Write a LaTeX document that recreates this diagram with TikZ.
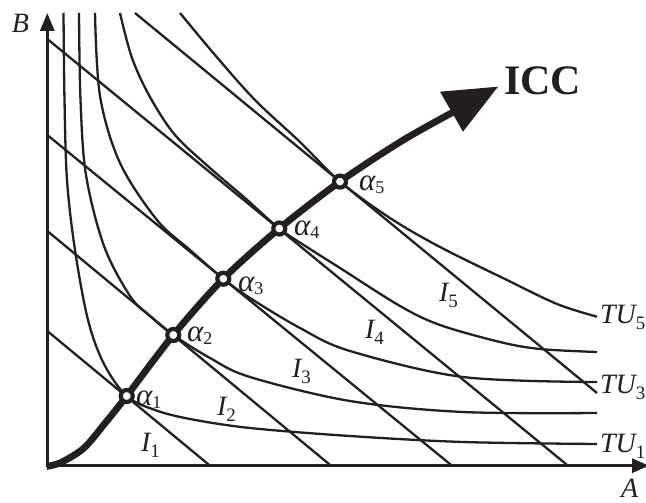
\documentclass[tikz,border=0pt]{standalone}
\usepackage{fontspec}
\setmainfont{Liberation Serif}
\usetikzlibrary{arrows.meta}
\definecolor{ink}{RGB}{35,31,32}
\newcommand\lbsub[2][6pt]{\raisebox{-#1}{\fontsize{19}{19}\selectfont\upshape #2}}
\newcommand\asub[1]{\raisebox{-3pt}{\fontsize{18}{18}\selectfont\upshape #1}}
\begin{document}
\begin{tikzpicture}[x=1pt,y=-1pt,
  every node/.style={text=ink, inner sep=0pt, outer sep=0pt},
  lab/.style={font=\fontsize{28}{30}\selectfont\itshape, anchor=base west},
  alab/.style={font=\fontsize{31}{33}\selectfont\itshape, anchor=base west},
  budget/.style={draw=ink, line width=2.3pt},
  utility/.style={draw=ink, line width=2.3pt},
  axisline/.style={draw=ink, line width=3pt, line join=miter},
  iccline/.style={draw=ink, line width=6.8pt},
  amark/.style={circle, draw=ink, fill=white, line width=4.2pt, minimum size=12pt}
]
\useasboundingbox (0,0) rectangle (646,503);
% coordinates
\coordinate (O) at (47.3,465.7);
\coordinate (Ytip) at (47.3,13);
\coordinate (Xtip) at (649,465.7);
\coordinate (p1) at (126.7,396);
\coordinate (p2) at (173.3,335);
\coordinate (p3) at (223.3,278.7);
\coordinate (p4) at (279.3,228.5);
\coordinate (p5) at (340,181.6);
% budget lines
\coordinate (l1a) at (47.3,331);  \coordinate (l1b) at (210,465.7);
\coordinate (l2a) at (47.3,231);  \coordinate (l2b) at (331,465.7);
\coordinate (l3a) at (47.3,135);  \coordinate (l3b) at (452,465.7);
\coordinate (l4a) at (47.3,39);   \coordinate (l4b) at (568,465.7);
\coordinate (l5a) at (135,13);    \coordinate (l5b) at (597,393);
\draw[budget] (l1a) -- (l1b);
\draw[budget] (l2a) -- (l2b);
\draw[budget] (l3a) -- (l3b);
\draw[budget] (l4a) -- (l4b);
\draw[budget] (l5a) -- (l5b);
% indifference curves
\draw[utility] plot[smooth, tension=0.55] coordinates {(63.5,13) (64.5,100) (67,180) (75,250) (88,320) (104,364) (126.7,396) (155,410) (190,419) (250,428) (350,436) (463,442) (597,444)};
\draw[utility] plot[smooth, tension=0.55] coordinates {(79,13) (80.5,100) (86,175) (104,246) (130,296) (150,316) (173.3,335) (210,358) (250,377) (350,401) (463,412) (597,413)};
\draw[utility] plot[smooth, tension=0.55] coordinates {(95,13) (100,96) (120,163) (157,220) (190,250) (223.3,278.7) (250,298) (300,328) (350,351) (463,377) (597,382)};
\draw[utility] plot[smooth, tension=0.55] coordinates {(120,13) (132,58) (150,97) (175,135) (210,168) (245,198) (279.3,228.5) (310,249) (340,268) (400,306) (440,325) (500,342) (540,349) (597,352)};
\draw[utility] plot[smooth, tension=0.55] coordinates {(180,13) (215,55) (255,100) (300,142) (340,181.6) (390,218) (440,247) (507,280) (557,304) (597,316.7)};
% axes
\draw[axisline, {Triangle[length=18pt,width=14pt]}-{Triangle[length=17pt,width=14pt]}] (Ytip) -- (O) -- (Xtip);
% ICC
\coordinate (hTip) at (498,86.7);
\coordinate (hL) at (440,91.7);
\coordinate (hR) at (463,131.7);
\draw[iccline] plot[smooth, tension=0.5] coordinates {(46.5,466.5) (61,462.5) (84,448) (106,422) (126.7,396) (173.3,335) (223.3,278.7) (279.3,228.5) (340,181.6) (405,139) (470,103)};
\fill[ink] (hTip) -- (hL) -- (hR) -- cycle;
% markers
\node[amark] (a1) at (p1) {};
\node[amark] (a2) at (p2) {};
\node[amark] (a3) at (p3) {};
\node[amark] (a4) at (p4) {};
\node[amark] (a5) at (p5) {};
% labels
\node[alab] (la1) at (136,405) {α\asub{1}};
\node[alab] (la2) at (187,341.5) {α\asub{2}};
\node[alab] (la3) at (238,291) {α\asub{3}};
\node[alab] (la4) at (294,235) {α\asub{4}};
\node[alab] (la5) at (359,190) {α\asub{5}};
\node[lab] (i1) at (141,451) {I\lbsub{1}};
\node[lab] (i2) at (217,415) {I\lbsub{2}};
\node[lab] (i3) at (292,377) {I\lbsub{3}};
\node[lab] (i4) at (365,338) {I\lbsub{4}};
\node[lab] (i5) at (439,301) {I\lbsub{5}};
\node[lab] (tu5) at (600,323) {TU\lbsub{5}};
\node[lab] (tu3) at (600,393) {TU\lbsub{3}};
\node[lab] (tu1) at (600,452) {TU\lbsub{1}};
\node[lab] (labB) at (12,33) {B};
\node[lab] (labA) at (621,497) {A};
\node[font=\fontsize{42}{46}\selectfont\bfseries, anchor=base west] (icc) at (504,94.3) {ICC};
\end{tikzpicture}
\end{document}
